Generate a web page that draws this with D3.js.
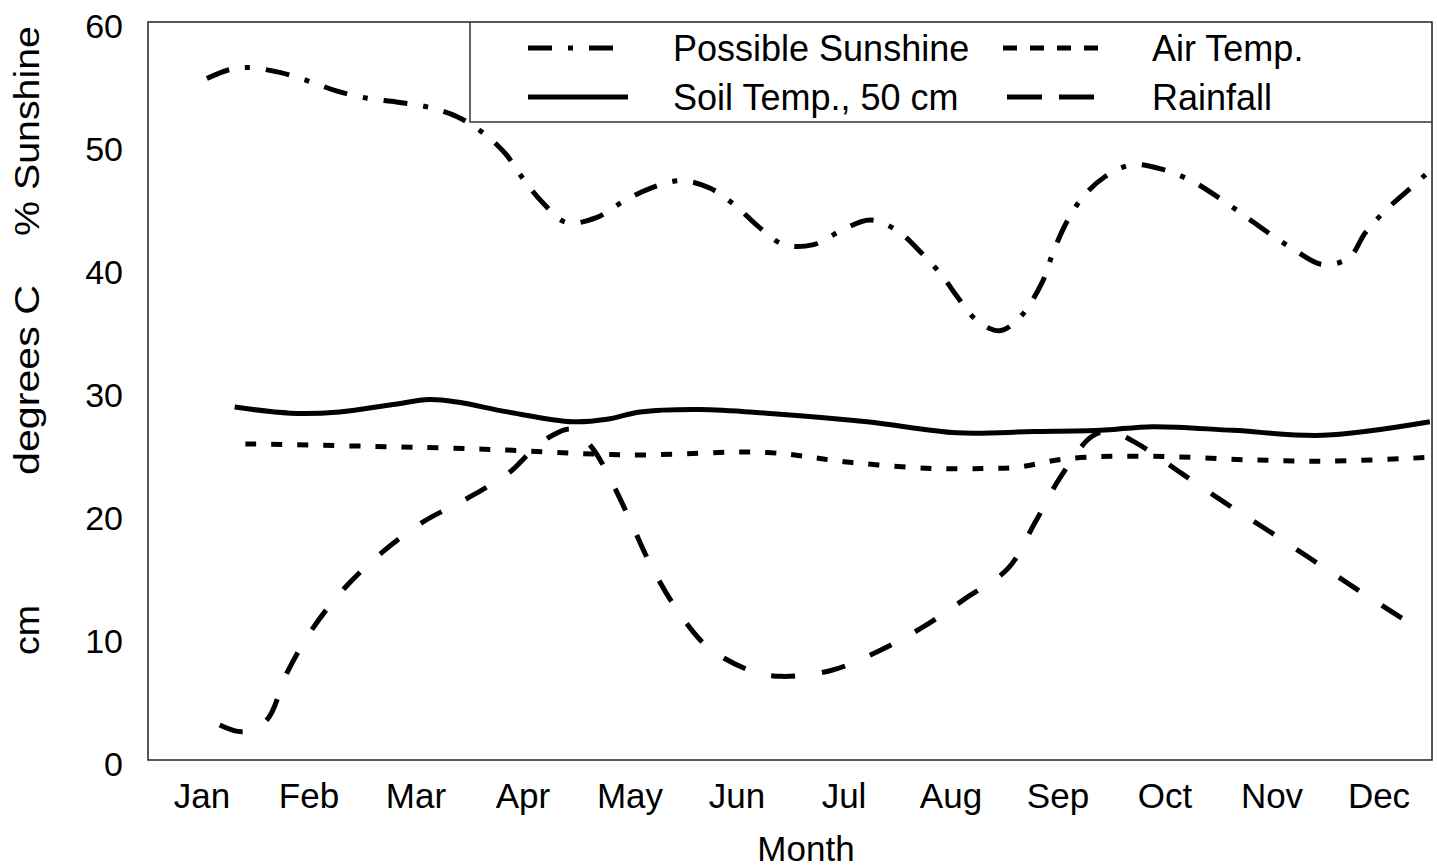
<!DOCTYPE html>
<html>
<head>
<meta charset="utf-8">
<script src="https://cdn.jsdelivr.net/npm/d3@7"></script>
<style>
  body { margin: 0; background: #fff; }
  svg { display: block; font-family: "Liberation Sans", Arial, sans-serif; }
  .frame { fill: none; stroke: #222; stroke-width: 1.5; }
  .series { fill: none; stroke: #000; stroke-width: 5; stroke-linecap: butt; }
</style>
</head>
<body>
<svg id="chart"></svg>
<script>
const months = ["Jan", "Feb", "Mar", "Apr", "May", "Jun", "Jul", "Aug", "Sep", "Oct", "Nov", "Dec"];
const yTicks = [0, 10, 20, 30, 40, 50, 60];

// [month position, value]; Jan = 0 ... Dec = 11
const sunshine = [
  [0.05, 55.4], [0.25, 56.1], [0.43, 56.3], [0.73, 55.9], [1.0, 55.2], [1.26, 54.4],
  [1.55, 53.8], [1.82, 53.5], [2.11, 53.1], [2.39, 52.3], [2.63, 51.0], [2.84, 49.3],
  [3.01, 47.2], [3.19, 45.3], [3.41, 43.7], [3.69, 44.1], [3.94, 45.4], [4.2, 46.5],
  [4.48, 47.1], [4.75, 46.5], [5.0, 45.0], [5.2, 43.4], [5.44, 41.9], [5.72, 41.9],
  [5.99, 43.1], [6.25, 43.9], [6.51, 43.0], [6.72, 41.3], [6.92, 39.4], [7.06, 37.7],
  [7.25, 35.7], [7.46, 34.9], [7.65, 36.0], [7.86, 38.9], [7.96, 41.3], [8.09, 43.8],
  [8.24, 45.8], [8.44, 47.4], [8.7, 48.4], [8.99, 48.0], [9.27, 47.0], [9.51, 45.7],
  [9.74, 44.3], [9.98, 42.8], [10.21, 41.5], [10.47, 40.3], [10.72, 40.8], [10.88, 42.9],
  [11.08, 44.8], [11.3, 46.5], [11.44, 47.6]
];
const soilTemp = [
  [0.31, 28.7], [0.83, 28.2], [1.29, 28.3], [1.79, 28.9], [2.13, 29.3], [2.39, 29.1],
  [2.86, 28.3], [3.47, 27.5], [3.79, 27.7], [4.1, 28.3], [4.66, 28.5], [5.28, 28.2],
  [6.22, 27.5], [7.06, 26.6], [7.77, 26.7], [8.4, 26.8], [8.89, 27.1], [9.64, 26.8],
  [10.48, 26.4], [11.48, 27.5]
];
const airTemp = [
  [0.41, 25.7], [2.11, 25.4], [2.86, 25.2], [3.57, 24.9], [4.1, 24.8], [5.28, 25.0],
  [6.06, 24.2], [6.84, 23.7], [7.3, 23.7], [7.62, 23.8], [8.09, 24.5], [8.86, 24.7],
  [9.8, 24.4], [10.57, 24.3], [11.46, 24.6]
];
const rainfall = [
  [0.17, 2.85], [0.39, 2.3], [0.61, 3.25], [0.8, 7.1], [1.04, 10.7], [1.34, 14.0],
  [1.69, 16.9], [2.06, 19.3], [2.49, 21.3], [2.88, 23.4], [3.07, 25.0], [3.26, 26.3],
  [3.46, 26.9], [3.65, 25.4], [3.77, 23.7], [3.99, 19.8], [4.19, 16.0], [4.43, 12.4],
  [4.73, 9.2], [5.15, 7.2], [5.42, 6.8], [5.89, 7.3], [6.34, 8.9], [6.76, 10.9],
  [7.15, 13.2], [7.54, 15.6], [7.79, 19.3], [8.02, 22.9], [8.32, 26.3], [8.49, 26.7],
  [8.75, 25.7], [9.16, 23.3], [9.55, 21.0], [9.96, 18.7], [10.36, 16.4], [10.76, 14.1],
  [11.17, 11.8], [11.37, 10.7]
];

const width = 1437, height = 867;
const margin = { left: 148, right: 5, top: 22, bottom: 107 };

const svg = d3.select("#chart").attr("width", width).attr("height", height);

const x = d3.scaleLinear().domain([-0.5, 11.5]).range([margin.left, width - margin.right]);
const y = d3.scaleLinear().domain([0, 60]).range([height - margin.bottom, margin.top]);

const line = d3.line()
  .x(d => x(d[0]))
  .y(d => y(d[1]))
  .curve(d3.curveCatmullRom.alpha(0.5));

// y axis labels
const yAxis = svg.append("g")
  .attr("transform", `translate(${margin.left},0)`)
  .call(d3.axisLeft(y).tickValues(yTicks).tickSize(0).tickPadding(25));
yAxis.select(".domain").remove();
yAxis.selectAll("text")
  .attr("font-size", 34)
  .attr("font-family", "Liberation Sans, Arial, sans-serif")
  .attr("fill", "#000")
  .attr("dy", "0.45em");

// x axis labels
const xAxis = svg.append("g")
  .attr("transform", `translate(0,${y(0)})`)
  .call(d3.axisBottom(x).tickValues(d3.range(12)).tickFormat(i => months[i]).tickSize(0));
xAxis.select(".domain").remove();
xAxis.selectAll("text")
  .attr("font-size", 35)
  .attr("font-family", "Liberation Sans, Arial, sans-serif")
  .attr("fill", "#000")
  .attr("y", 48)
  .attr("dy", 0);

svg.append("text")
  .attr("x", 806).attr("y", 861)
  .attr("text-anchor", "middle")
  .attr("font-size", 35)
  .text("Month");

// y titles
const yTitles = [
  { label: "% Sunshine", c: 131, len: 210 },
  { label: "degrees C", c: 380, len: 190 },
  { label: "cm", c: 630, len: 50 }
];
yTitles.forEach(t => {
  svg.append("text")
    .attr("transform", `translate(39,${t.c}) rotate(-90)`)
    .attr("text-anchor", "middle")
    .attr("font-size", 35)
    .attr("textLength", t.len)
    .attr("lengthAdjust", "spacingAndGlyphs")
    .text(t.label);
});

// frame
svg.append("rect").attr("class", "frame")
  .attr("x", x(-0.5)).attr("y", y(60))
  .attr("width", x(11.5) - x(-0.5)).attr("height", y(0) - y(60));

const clip = svg.append("clipPath").attr("id", "plotclip")
  .append("rect")
  .attr("x", x(-0.5)).attr("y", y(60))
  .attr("width", x(11.5) - x(-0.5)).attr("height", y(0) - y(60));

const series = [
  { name: "Possible Sunshine", data: sunshine, dash: "24,16,5,16", legendDash: "24,16,5,16" },
  { name: "Soil Temp., 50 cm", data: soilTemp, dash: null, legendDash: null },
  { name: "Air Temp.", data: airTemp, dash: "11,15", legendDash: "14,13" },
  { name: "Rainfall", data: rainfall, dash: "24,27", legendDash: "35,17" }
];

const plot = svg.append("g").attr("clip-path", "url(#plotclip)");
series.forEach(s => {
  plot.append("path")
    .datum(s.data)
    .attr("class", "series")
    .attr("stroke-dasharray", s.dash)
    .attr("d", line);
});

// legend
const legend = svg.append("g");
legend.append("path")
  .attr("d", `M470,${y(60)} V122 H${x(11.5)}`)
  .attr("fill", "none").attr("stroke", "#333").attr("stroke-width", 1.5);

const legendPos = [
  { x1: 528, x2: 617, ly: 48, tx: 673, ty: 61 },
  { x1: 528, x2: 628, ly: 97, tx: 673, ty: 110 },
  { x1: 1003, x2: 1100, ly: 48, tx: 1152, ty: 61 },
  { x1: 1007, x2: 1095, ly: 97, tx: 1152, ty: 110 }
];
series.forEach((s, i) => {
  const p = legendPos[i];
  legend.append("line")
    .attr("x1", p.x1).attr("x2", p.x2).attr("y1", p.ly).attr("y2", p.ly)
    .attr("stroke", "#000").attr("stroke-width", 5)
    .attr("stroke-dasharray", s.legendDash);
  legend.append("text")
    .attr("x", p.tx).attr("y", p.ty)
    .attr("font-size", 36)
    .text(s.name);
});
</script>
</body>
</html>
